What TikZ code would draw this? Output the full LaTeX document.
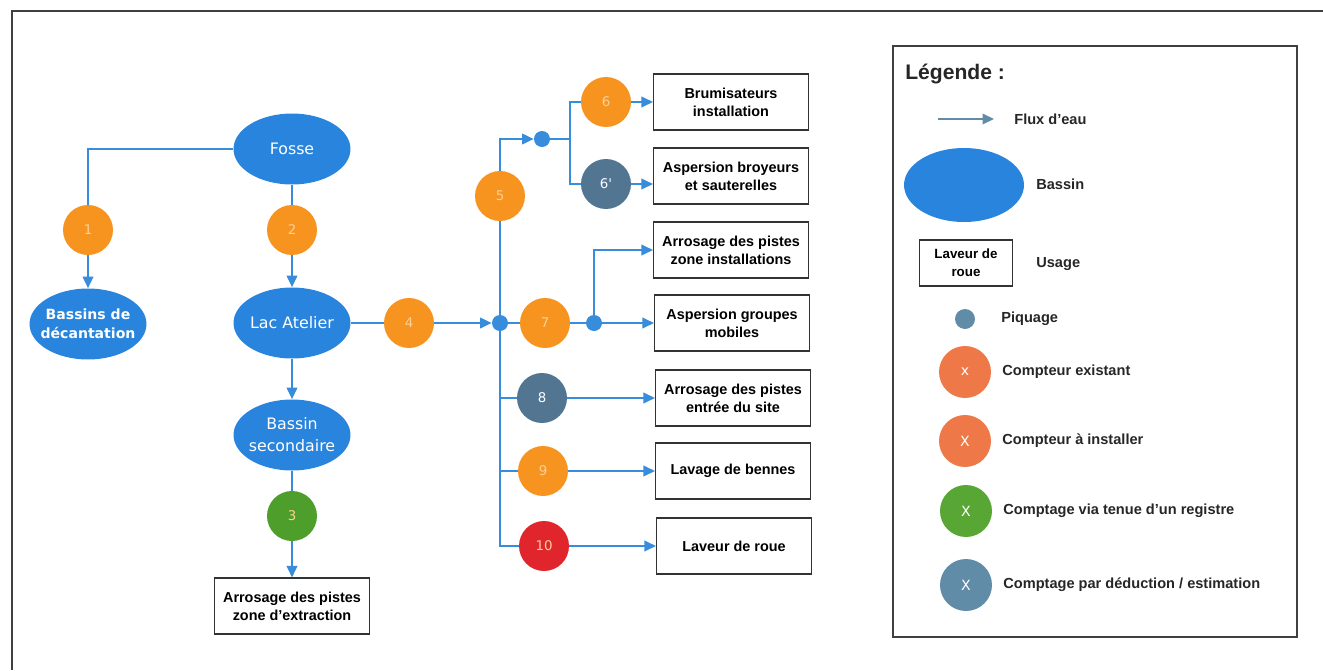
\documentclass[tikz,border=0pt]{standalone}
\usepackage{fontspec}
\setmainfont{Liberation Sans}
\newfontfamily\ellfont{DejaVu Sans}
\usetikzlibrary{arrows.meta,shapes.geometric}

\definecolor{bassinblue}{RGB}{40,132,220}
\definecolor{flowblue}{RGB}{55,140,220}
\definecolor{cptorange}{RGB}{247,148,32}
\definecolor{cptgrey}{RGB}{82,117,146}
\definecolor{cptgreen}{RGB}{78,158,44}
\definecolor{cptred}{RGB}{224,38,44}
\definecolor{legorange}{RGB}{238,120,72}
\definecolor{leggreen}{RGB}{88,166,52}
\definecolor{legsteel}{RGB}{96,140,168}
\definecolor{faint}{RGB}{252,208,150}

\tikzset{
  bassin/.style={ellipse, fill=bassinblue, text=white, minimum width=2.34cm,
    minimum height=1.42cm, inner xsep=-2.5mm, inner ysep=0pt, align=center,
    font=\ellfont\fontsize{9}{12.5}\selectfont},
  usage/.style={draw=black!80, line width=0.6pt, minimum width=3.1cm,
    minimum height=1.12cm, align=center, font=\bfseries\fontsize{8.2}{10.3}\selectfont},
  cpt/.style={circle, minimum size=1cm, inner sep=0pt,
    font=\ellfont\fontsize{7.6}{9}\selectfont},
  orng/.style={cpt, fill=cptorange, text=faint},
  grey/.style={cpt, fill=cptgrey, text=white},
  piq/.style={circle, fill=flowblue, minimum size=0.32cm, inner sep=0pt},
  flow/.style={draw=flowblue, line width=1.1pt},
  flowarr/.style={flow, -{Triangle[length=2.3mm,width=2.1mm]}},
  legtext/.style={anchor=west, inner sep=0pt, font=\bfseries\fontsize{8.3}{10}\selectfont, text=black!85},
  legcpt/.style={circle, minimum size=1.04cm, inner sep=0pt, text=white,
    font=\ellfont\fontsize{8}{9}\selectfont}
}

\begin{document}
\begin{tikzpicture}[x=0.02cm, y=-0.02cm]
  \useasboundingbox (0,0) rectangle (1323,670);
  % frame
  \draw[black!75, line width=0.7pt] (1323,11) -- (12,11) -- (12,670);

  % bassins
  \node[bassin] (fosse) at (292,149) {Fosse};
  \node[bassin, font=\ellfont\bfseries\fontsize{8}{11}\selectfont] (decant) at (88,324) {Bassins de\\décantation};
  \node[bassin] (lac) at (292,323) {Lac Atelier};
  \node[bassin] (second) at (292,435) {Bassin\\secondaire};

  % compteurs
  \node[orng] (c1) at (88,230) {1};
  \node[orng] (c2) at (292,230) {2};
  \node[cpt, fill=cptgreen, text=faint] (c3) at (292,516) {3};
  \node[orng] (c4) at (409,323) {4};
  \node[orng] (c5) at (500,196) {5};
  \node[orng] (c6) at (606,102) {6};
  \node[grey] (c6p) at (606,184) {6'};
  \node[orng] (c7) at (545,323) {7};
  \node[grey] (c8) at (542,398) {8};
  \node[orng] (c9) at (543,471) {9};
  \node[cpt, fill=cptred, text=faint] (c10) at (544,546) {10};

  % piquages
  \node[piq] (p1) at (500,323) {};
  \node[piq] (p2) at (542,139) {};
  \node[piq] (p3) at (594,323) {};
  \coordinate (s6) at (570,139);

  % usages
  \node[usage] (u3) at (292,606) {Arrosage des pistes\\zone d'extraction};
  \node[usage] (u6) at (731,102) {Brumisateurs\\installation};
  \node[usage] (u6p) at (731,176) {Aspersion broyeurs\\et sauterelles};
  \node[usage] (u7a) at (731,250) {Arrosage des pistes\\zone installations};
  \node[usage] (u7b) at (732,323) {Aspersion groupes\\mobiles};
  \node[usage] (u8) at (733,398) {Arrosage des pistes\\entrée du site};
  \node[usage] (u9) at (733,471) {Lavage de bennes};
  \node[usage] (u10) at (734,546) {Laveur de roue};

  % flux
  \draw[flow] (fosse.west) -| (c1);
  \draw[flowarr] (c1) -- (decant);
  \draw[flow] (fosse) -- (c2);
  \draw[flowarr] (c2) -- (lac);
  \draw[flowarr] (lac) -- (second);
  \draw[flow] (second) -- (c3);
  \draw[flowarr] (c3) -- (u3);
  \draw[flow] (lac) -- (c4);
  \draw[flowarr] (c4) -- (p1);
  \draw[flow] (p1) -- (c5);
  \draw[flowarr] (c5) |- (p2);
  \draw[flow] (p2) -- (s6) |- (c6);
  \draw[flow] (s6) |- (c6p);
  \draw[flowarr] (c6) -- (u6);
  \draw[flowarr] (c6p) -- (c6p -| u6p.west);
  \draw[flow] (p1) -- (c7);
  \draw[flow] (c7) -- (p3);
  \draw[flowarr] (p3) |- (u7a);
  \draw[flowarr] (p3) -- (u7b);
  \draw[flow] (p1) |- (c8);
  \draw[flow] (p1) |- (c9);
  \draw[flow] (p1) |- (c10);
  \draw[flowarr] (c8) -- (u8);
  \draw[flowarr] (c9) -- (u9);
  \draw[flowarr] (c10) -- (u10);

  % legende
  \draw[black!75, line width=0.7pt] (893,46) rectangle (1297,637);
  \node[anchor=west, inner sep=0pt, font=\bfseries\fontsize{12}{14}\selectfont, text=black!85] (titre) at (905,74) {Légende :};
  \coordinate (la1) at (938,119);
  \coordinate (la2) at (994,119);
  \draw[draw=legsteel, line width=1.1pt, -{Triangle[length=2.3mm,width=2.1mm]}] (la1) -- (la2);
  \node[legtext] (tflux) at (1014,119) {Flux d'eau};
  \node[ellipse, fill=bassinblue, minimum width=2.4cm, minimum height=1.48cm] (lbassin) at (964,185) {};
  \node[legtext] (tbassin) at (1036,184) {Bassin};
  \node[draw=black!80, line width=0.6pt, minimum width=1.86cm, minimum height=0.92cm, align=center,
    font=\bfseries\fontsize{7.6}{10}\selectfont, inner sep=1pt] (lusage) at (966,263) {Laveur de\\roue};
  \node[legtext] (tusage) at (1036,264) {Usage};
  \node[circle, fill=legsteel, minimum size=0.4cm, inner sep=0pt] (lpiq) at (965,319) {};
  \node[legtext] (tpiq) at (1001,319) {Piquage};
  \node[legcpt, fill=legorange] (lc1) at (965,372) {x};
  \node[legtext] (tc1) at (1002,372) {Compteur existant};
  \node[legcpt, fill=legorange] (lc2) at (965,441) {X};
  \node[legtext] (tc2) at (1002,441) {Compteur à installer};
  \node[legcpt, fill=leggreen] (lc3) at (966,511) {X};
  \node[legtext] (tc3) at (1003,511) {Comptage via tenue d'un registre};
  \node[legcpt, fill=legsteel] (lc4) at (966,585) {X};
  \node[legtext] (tc4) at (1003,585) {Comptage par déduction / estimation};
\end{tikzpicture}
\end{document}
